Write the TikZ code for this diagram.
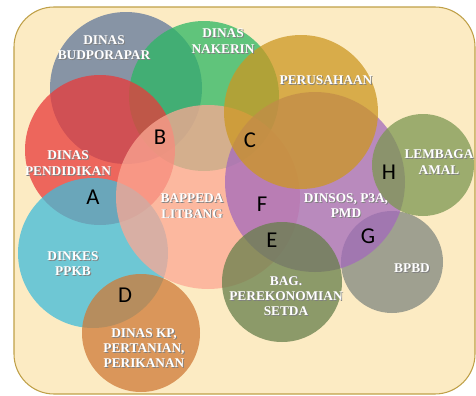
\documentclass[tikz,border=0pt]{standalone}
\usepackage{fontspec}
\setmainfont{Liberation Serif}
\newfontfamily\lettfont{Carlito}

\definecolor{bgyellow}{HTML}{FCEBC3}
\definecolor{frame}{HTML}{BFA048}
\definecolor{cbudpor}{HTML}{60779C}
\definecolor{cnaker}{HTML}{2CB764}
\definecolor{cusaha}{HTML}{CC9722}
\definecolor{cdinsos}{HTML}{A36ABC}
\definecolor{cbappeda}{HTML}{FCA894}
\definecolor{cdidik}{HTML}{E93A3A}
\definecolor{cdinkes}{HTML}{3FBCDA}
\definecolor{ckp}{HTML}{CF7A37}
\definecolor{cbag}{HTML}{677F4B}
\definecolor{cbpbd}{HTML}{818780}
\definecolor{camal}{HTML}{7C9752}

% white name with a soft grey shadow
\newcommand{\vennname}[3]{%
  \node[lbl, text=black!50, xshift=0.7pt, yshift=-0.7pt] at (#2) {#3};
  \node[lbl] (#1) at (#2) {#3};}

\begin{document}
\begin{tikzpicture}[x=0.75pt, y=-0.75pt,
  venn/.style={fill opacity=0.75},
  lbl/.style={text=white, font=\bfseries\fontsize{10}{11.5}\selectfont, align=center, inner sep=0pt},
  zone/.style={font=\lettfont\fontsize{17}{17}\selectfont, inner sep=0pt}]
  \useasboundingbox (0,0) rectangle (476,396);
  \draw[fill=bgyellow, draw=frame, line width=0.8pt, rounded corners=30pt] (14,7) rectangle (475,394);
  % circles
  \fill[venn, cbudpor] (126,88) circle[radius=76];
  \fill[venn, cnaker] (204,96) circle[radius=75];
  \fill[venn, cdidik] (100,150) circle[radius=75];
  \fill[venn, cdinkes] (93,253) circle[radius=75];
  \fill[venn, cbpbd] (392,262) circle[radius=51];
  \fill[venn, cbappeda] (208,197) circle[radius=92];
  \fill[venn, cdinsos] (315,182) circle[radius=90];
  \fill[venn, cusaha] (301,112) circle[radius=77];
  \fill[venn, cbag] (282,282) circle[radius=60];
  \fill[venn, ckp] (141,333) circle[radius=59];
  \fill[venn, camal] (423,165) circle[radius=51];
  % names
  \vennname{budpor}{104,47.5}{DINAS\\BUDPORAPAR}
  \vennname{naker}{223,41}{DINAS\\NAKERIN}
  \vennname{usaha}{326,80}{PERUSAHAAN}
  \vennname{didik}{68,163}{DINAS\\PENDIDIKAN}
  \vennname{dinkes}{73,263.5}{DINKES\\PPKB}
  \vennname{kp}{144,348}{DINAS KP,\\PERTANIAN,\\PERIKANAN}
  \vennname{bappeda}{192,206}{BAPPEDA\\LITBANG}
  \vennname{dinsos}{346,205.5}{DINSOS, P3A,\\PMD}
  \vennname{bag}{286,296}{BAG.\\PEREKONOMIAN\\SETDA}
  \vennname{bpbd}{412,268}{BPBD}
  \vennname{amal}{439,162}{LEMBAGA\\AMAL}
  % zones
  \node[zone] (za) at (93,197) {A};
  \node[zone] (zb) at (160,137) {B};
  \node[zone] (zc) at (250,140) {C};
  \node[zone] (zd) at (125,295) {D};
  \node[zone] (ze) at (272,240) {E};
  \node[zone] (zf) at (262,204) {F};
  \node[zone] (zg) at (368,236) {G};
  \node[zone] (zh) at (389,172) {H};
\end{tikzpicture}
\end{document}
